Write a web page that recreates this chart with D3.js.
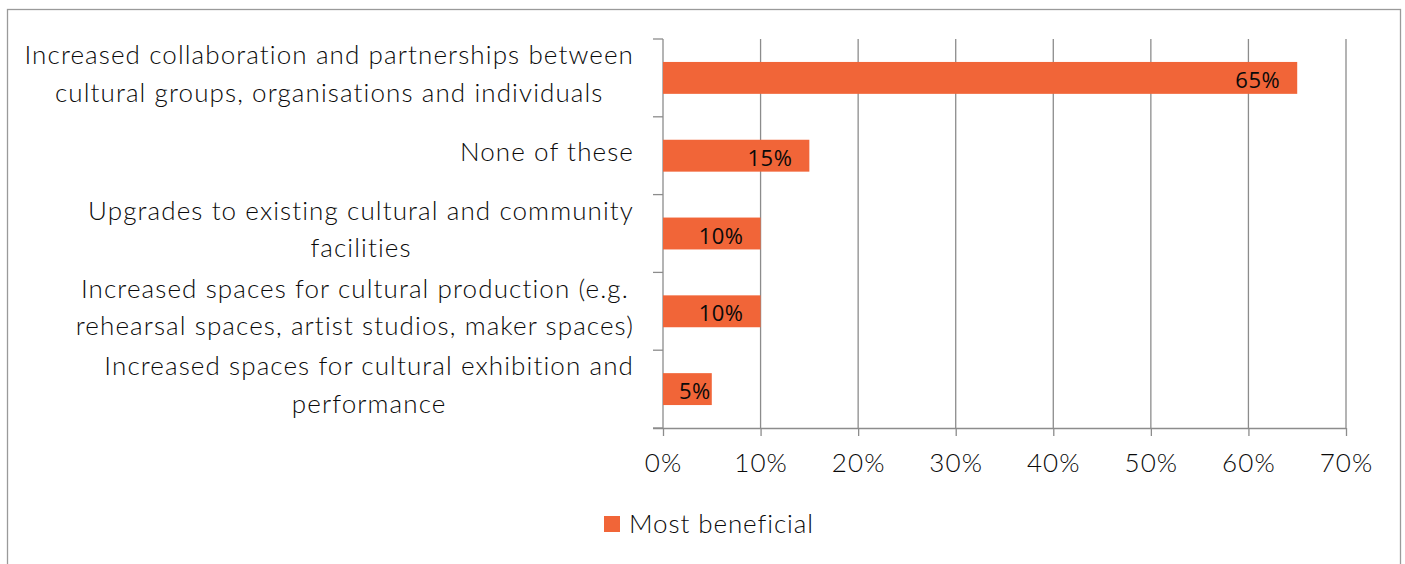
<!DOCTYPE html>
<html>
<head>
<meta charset="utf-8">
<script src="https://cdn.jsdelivr.net/npm/d3@7"></script>
<style>
  html, body { margin: 0; padding: 0; background: #fff; }
  svg { display: block; }
</style>
</head>
<body>
<svg id="chart" width="1405" height="564"></svg>
<script>
// Survey responses: which initiative would be most beneficial
const categories = [
  ["Increased collaboration and partnerships between", "cultural groups, organisations and individuals"],
  ["None of these"],
  ["Upgrades to existing cultural and community", "facilities"],
  ["Increased spaces for cultural production (e.g.", "rehearsal spaces, artist studios, maker spaces)"],
  ["Increased spaces for cultural exhibition and", "performance"]
];
const values = [65, 15, 10, 10, 5];
const tickValues = [0, 10, 20, 30, 40, 50, 60, 70];
const seriesName = "Most beneficial";

const barColor = "#F16538";
const gridColor = "#8c8c8c";
const textColor = "#0a0a0a";
const labelFont = "Lato, 'Open Sans', sans-serif";
const valueFont = "'Open Sans', 'Noto Sans', sans-serif";
const labelSize = 26;
const labelSpacing = "1.1px";
const labelWeight = 300;

const svg = d3.select("#chart");

// outer frame
svg.append("rect")
  .attr("x", 7.5).attr("y", 9.5)
  .attr("width", 1393).attr("height", 600)
  .attr("fill", "none").attr("stroke", "#9a9a9a").attr("stroke-width", 1.3);

const plot = { left: 663, right: 1346, top: 39, bottom: 428 };

const x = d3.scaleLinear().domain([0, 70]).range([plot.left, plot.right]);
const y = d3.scaleBand().domain(d3.range(categories.length))
  .range([plot.top, plot.bottom]).paddingInner(0.59).paddingOuter(0.295);
const yBand = d3.scaleBand().domain(d3.range(categories.length))
  .range([plot.top, plot.bottom]);

// vertical gridlines
svg.append("g").selectAll("line").data(tickValues.slice(1)).join("line")
  .attr("x1", d => x(d)).attr("x2", d => x(d))
  .attr("y1", plot.top).attr("y2", plot.bottom)
  .attr("stroke", gridColor).attr("stroke-width", 1.3);

// bottom axis
const xAxis = d3.axisBottom(x).tickValues(tickValues)
  .tickFormat(d => d + "%").tickSizeInner(8).tickSizeOuter(0).tickPadding(10);
const gx = svg.append("g").attr("transform", `translate(0,${plot.bottom})`).call(xAxis);
gx.select(".domain").attr("d", `M${plot.left - 10},0.5H${plot.right}`)
  .attr("stroke", gridColor).attr("stroke-width", 1.3);
gx.selectAll(".tick line").attr("stroke", gridColor).attr("stroke-width", 1.3);
gx.selectAll(".tick text")
  .attr("font-family", labelFont).attr("font-size", labelSize)
  .attr("font-weight", labelWeight).attr("letter-spacing", labelSpacing)
  .attr("fill", textColor)
  .attr("y", 44).attr("dy", null);

// left axis: line with category boundary ticks
const gy = svg.append("g");
gy.append("line")
  .attr("x1", plot.left).attr("x2", plot.left)
  .attr("y1", plot.top).attr("y2", plot.bottom)
  .attr("stroke", gridColor).attr("stroke-width", 1.3);
gy.selectAll("line.tk").data(d3.range(categories.length + 1)).join("line")
  .attr("class", "tk")
  .attr("x1", plot.left - 10).attr("x2", plot.left)
  .attr("y1", i => i < categories.length ? yBand(i) : plot.bottom)
  .attr("y2", i => i < categories.length ? yBand(i) : plot.bottom)
  .attr("stroke", gridColor).attr("stroke-width", 1.3);

// bars
svg.append("g").selectAll("rect").data(values).join("rect")
  .attr("x", x(0))
  .attr("y", (d, i) => y(i))
  .attr("width", d => x(d) - x(0))
  .attr("height", y.bandwidth())
  .attr("fill", barColor);

// category labels: block right-aligned, lines centred within the block
const lineGap = 37.6;
const labelRight = 634;
const cat = svg.append("g");
categories.forEach((lines, i) => {
  const cy = yBand(i) + yBand.bandwidth() / 2;
  const t = cat.append("text")
    .attr("font-family", labelFont).attr("font-size", labelSize)
    .attr("font-weight", labelWeight).attr("letter-spacing", labelSpacing)
    .attr("fill", textColor)
    .attr("text-anchor", "middle");
  const spans = lines.map((ln, k) => t.append("tspan")
    .attr("y", cy + 5 + (k - (lines.length - 1) / 2) * lineGap)
    .text(ln));
  const w = d3.max(spans, s => s.node().getComputedTextLength());
  spans.forEach(s => s.attr("x", labelRight - w / 2));
});

// value labels inside bar ends
svg.append("g").selectAll("text").data(values).join("text")
  .attr("font-family", valueFont).attr("font-size", 22).attr("fill", textColor)
  .attr("letter-spacing", "0.5px")
  .attr("text-anchor", "end")
  .attr("y", (d, i) => y(i) + y.bandwidth() / 2 + 10)
  .text(d => d + "%")
  .each(function (d) {
    const w = this.getComputedTextLength();
    d3.select(this).attr("x", Math.max(x(d) - 17, x(0) + w + 16));
  });

// legend
const lg = svg.append("g");
lg.append("rect").attr("x", 604).attr("y", 516).attr("width", 16).attr("height", 16)
  .attr("fill", barColor);
lg.append("text").attr("x", 629).attr("y", 533)
  .attr("font-family", labelFont).attr("font-size", labelSize)
  .attr("font-weight", labelWeight).attr("letter-spacing", "0.9px")
  .attr("fill", textColor)
  .text(seriesName);
</script>
</body>
</html>
